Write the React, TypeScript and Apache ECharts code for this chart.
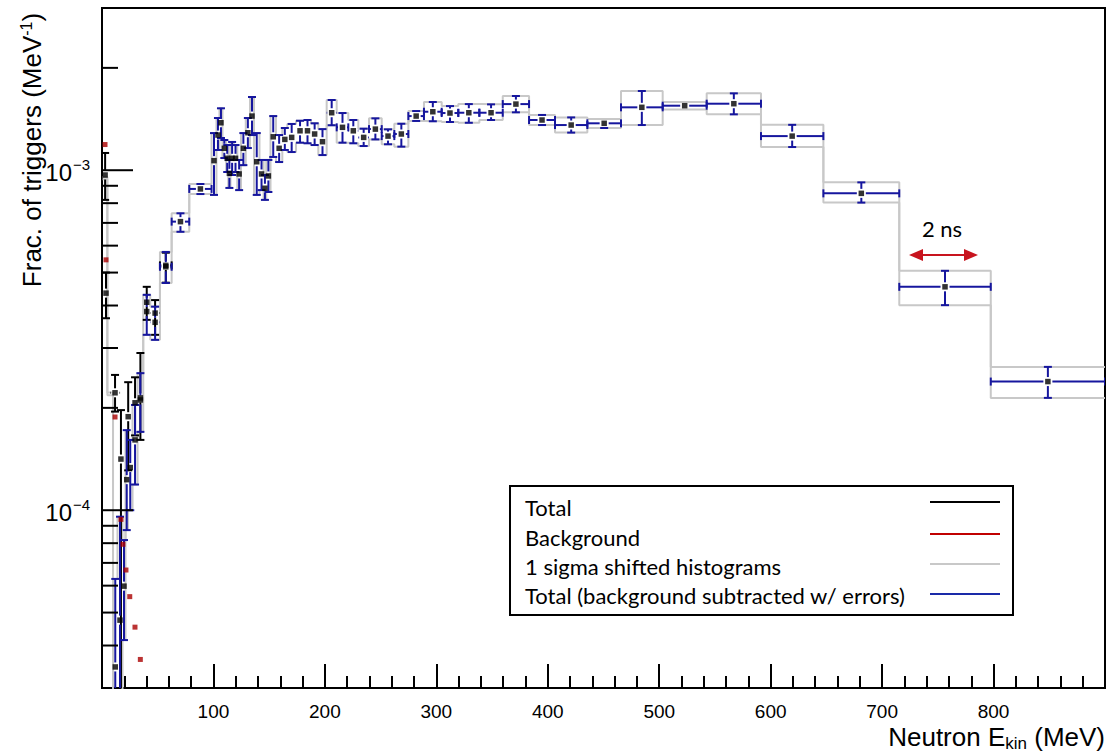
import React, { useEffect, useRef } from "react";
import * as echarts from "echarts";

// ---------- axis ticks ----------
const xTickLabels = [100, 200, 300, 400, 500, 600, 700, 800];
const yMajorTicks = [1e-4, 1e-3];
const yMinorTicks = [4e-5, 5e-5, 6e-5, 7e-5, 8e-5, 9e-5, 2e-4, 3e-4, 4e-4, 5e-4, 6e-4, 7e-4, 8e-4, 9e-4, 2e-3];
const yLabelExponents = [-4, -3];

// ---------- Total (background subtracted w/ errors) ----------
const binLo = [9.9, 13.9, 18.4, 21.1, 23.3, 27.4, 31.9, 37.0, 43.3, 52.0, 62.5, 78.3,
  98.3, 102.7, 105.4, 108.1, 111.4, 113.3, 115.3, 118.2, 121.4, 124.7, 129.0, 132.8, 136.4, 141.3, 145.0, 147.4,
  151.2, 156.1, 161.8, 166.3, 174.1, 181.3, 187.5, 194.1, 201.6, 210.6, 221.0, 230.0, 239.6, 251.0, 262.3, 274.9,
  288.9, 304.8, 319.7, 338.6, 359.6, 383.2, 406.5, 435.5, 465.7, 503.1, 542.6, 591.3, 647.3, 715.4, 797.5];
const binHi = [13.9, 18.4, 21.1, 23.3, 27.4, 31.9, 37.0, 43.3, 52.0, 62.5, 78.3, 98.3,
  102.7, 105.4, 108.1, 111.4, 113.3, 115.3, 118.2, 121.4, 124.7, 129.0, 132.8, 136.4, 141.3, 145.0, 147.4, 151.2,
  156.1, 161.8, 166.3, 174.1, 181.3, 187.5, 194.1, 201.6, 210.6, 221.0, 230.0, 239.6, 251.0, 262.3, 274.9, 288.9,
  304.8, 319.7, 338.6, 359.6, 383.2, 406.5, 435.5, 465.7, 503.1, 542.6, 591.3, 647.3, 715.4, 797.5, 900];
const binVal = [3.46e-5, 4.75e-5, 5.98e-5, 1.23e-4, 1.335e-4, 1.61e-4, 2.11e-4, 3.84e-4, 3.57e-4, 5.2e-4, 7.06e-4, 8.81e-4,
  1.067e-3, 1.269e-3, 1.379e-3, 1.16e-3, 1.084e-3, 9.79e-4, 1.084e-3, 1.084e-3, 9.75e-4, 1.16e-3, 1.289e-3, 1.443e-3, 1.059e-3, 9.75e-4, 8.85e-4, 9.62e-4,
  1.254e-3, 1.16e-3, 1.232e-3, 1.249e-3, 1.306e-3, 1.306e-3, 1.278e-3, 1.213e-3, 1.476e-3, 1.337e-3, 1.306e-3, 1.249e-3, 1.321e-3, 1.26e-3, 1.278e-3, 1.443e-3,
  1.486e-3, 1.473e-3, 1.476e-3, 1.476e-3, 1.565e-3, 1.405e-3, 1.358e-3, 1.374e-3, 1.531e-3, 1.548e-3, 1.569e-3, 1.26e-3, 8.55e-4, 4.54e-4, 2.39e-4];
const binUp = [6.28e-5, 9.57e-5, 8.17e-5, 1.72e-4, 1.61e-4, 2.04e-4, 2.53e-4, 4.3e-4, 3.97e-4, 5.75e-4, 7.47e-4, 9.11e-4,
  1.286e-3, 1.424e-3, 1.521e-3, 1.227e-3, 1.186e-3, 1.072e-3, 1.211e-3, 1.186e-3, 1.072e-3, 1.286e-3, 1.424e-3, 1.642e-3, 1.286e-3, 1.072e-3, 9.68e-4, 1.072e-3,
  1.443e-3, 1.269e-3, 1.331e-3, 1.368e-3, 1.398e-3, 1.405e-3, 1.374e-3, 1.321e-3, 1.609e-3, 1.473e-3, 1.405e-3, 1.325e-3, 1.421e-3, 1.319e-3, 1.37e-3, 1.493e-3,
  1.587e-3, 1.544e-3, 1.565e-3, 1.562e-3, 1.653e-3, 1.454e-3, 1.43e-3, 1.414e-3, 1.71e-3, 1.587e-3, 1.683e-3, 1.36e-3, 9.21e-4, 5.06e-4, 2.64e-4];
const binDn = [1e-5, 1e-5, 4.15e-5, 8.74e-5, 1.0e-4, 1.19e-4, 1.7e-4, 3.28e-4, 3.17e-4, 4.66e-4, 6.59e-4, 8.51e-4,
  8.46e-4, 1.147e-3, 1.244e-3, 1.086e-3, 9.88e-4, 8.87e-4, 9.68e-4, 9.88e-4, 8.74e-4, 1.035e-3, 1.162e-3, 1.269e-3, 8.46e-4, 8.74e-4, 8.18e-4, 8.63e-4,
  1.094e-3, 1.057e-3, 1.147e-3, 1.131e-3, 1.205e-3, 1.2e-3, 1.186e-3, 1.108e-3, 1.356e-3, 1.205e-3, 1.2e-3, 1.178e-3, 1.232e-3, 1.192e-3, 1.173e-3, 1.396e-3,
  1.393e-3, 1.386e-3, 1.379e-3, 1.405e-3, 1.48e-3, 1.358e-3, 1.29e-3, 1.331e-3, 1.358e-3, 1.508e-3, 1.46e-3, 1.17e-3, 8.03e-4, 4.01e-4, 2.14e-4];

// ---------- Total (before subtraction), low energies ----------
const totLo = [2.0, 2.8, 7.2, 14.5, 21.5, 27.4, 31.9, 37.0, 43.3, 52.0];
const totHi = [3.6, 4.4, 16.2, 19.5, 25.5, 31.9, 37.0, 43.3, 52.0, 62.5];
const totVal = [9.68e-4, 4.35e-4, 2.215e-4, 1.414e-4, 1.884e-4, 2.07e-4, 2.14e-4, 4.09e-4, 3.8e-4, 5.25e-4];
const totUp = [1.124e-3, 5.0e-4, 2.5e-4, 1.97e-4, 2.38e-4, 2.46e-4, 2.9e-4, 4.54e-4, 4.15e-4, 5.72e-4];
const totDn = [8.18e-4, 3.67e-4, 1.95e-4, 1e-5, 1.31e-4, 1.66e-4, 1.61e-4, 3.63e-4, 3.28e-4, 4.67e-4];

// ---------- Background ----------
const bkgE = [2.7, 3.6, 11.7, 17.0, 18.8, 21.5, 24.9, 29.6, 34.4];
const bkgVal = [1.19e-3, 5.45e-4, 1.88e-4, 9.4e-5, 7.94e-5, 6.67e-5, 5.57e-5, 4.53e-5, 3.64e-5];

// ---------- 1 sigma shifted histograms: leading low-energy bins ----------
const grayLeadLo = [0.5, 4.8];
const grayLeadHi = [4.8, 9.9];
const grayLeadUp = [9.55e-4, 2.22e-4];
const grayLeadDn = [9.4e-4, 2.18e-4];

const LEGEND_ITEMS = ["Total", "Background", "1 sigma shifted histograms", "Total (background subtracted w/ errors)"];

const BLUE = "#16169e";
const GRAY = "#c8c8c8";
const RED_MARK = "#aa0000";
const ROOT_FONT = '"Liberation Sans", Arial, sans-serif';
const LEG_FONT = 'Lato, "Open Sans", sans-serif';

function errorBars(color: string) {
  return (params: any, api: any) => {
    const lo = api.value(0), hi = api.value(1), v = api.value(2), up = api.value(3), dn = api.value(4);
    const cxv = (lo + hi) / 2;
    const c = api.coord([cxv, v]);
    const pl = api.coord([lo, v]);
    const ph = api.coord([hi, v]);
    const pu = api.coord([cxv, up]);
    const pd = api.coord([cxv, dn]);
    const g = 4.5, cap = 4;
    const st = { stroke: color, lineWidth: 2 };
    const kids: any[] = [];
    const seg = (x1: number, y1: number, x2: number, y2: number) =>
      kids.push({ type: "line", shape: { x1, y1, x2, y2 }, style: st });
    if (c[0] - g > pl[0]) seg(pl[0], c[1], c[0] - g, c[1]);
    if (ph[0] > c[0] + g) seg(c[0] + g, c[1], ph[0], c[1]);
    if (ph[0] - pl[0] > 2 * g + 2) {
      seg(pl[0], c[1] - cap, pl[0], c[1] + cap);
      seg(ph[0], c[1] - cap, ph[0], c[1] + cap);
    }
    if (pu[1] < c[1] - g) {
      seg(c[0], c[1] - g, c[0], pu[1]);
      seg(c[0] - cap, pu[1], c[0] + cap, pu[1]);
    }
    if (pd[1] > c[1] + g) {
      seg(c[0], c[1] + g, c[0], pd[1]);
      seg(c[0] - cap, pd[1], c[0] + cap, pd[1]);
    }
    return { type: "group", children: kids };
  };
}

export default function App() {
  const ref = useRef<HTMLDivElement>(null);
  useEffect(() => {
    if (!ref.current) return;
    const chart = echarts.init(ref.current, undefined, { renderer: "svg" });

    const blueData = binLo.map((lo, i) => [lo, binHi[i], binVal[i], binUp[i], binDn[i]]);
    const totData = totLo.map((lo, i) => [lo, totHi[i], totVal[i], totUp[i], totDn[i]]);

    const grayUpper: number[][] = [];
    const grayLower: number[][] = [];
    grayLeadLo.forEach((lo, i) => {
      grayUpper.push([lo, grayLeadUp[i]], [grayLeadHi[i], grayLeadUp[i]]);
      grayLower.push([lo, grayLeadDn[i]], [grayLeadHi[i], grayLeadDn[i]]);
    });
    binLo.forEach((lo, i) => {
      grayUpper.push([lo, binUp[i]], [binHi[i], binUp[i]]);
      grayLower.push([lo, binDn[i]], [binHi[i], binDn[i]]);
    });

    const markers = [
      ...binLo.map((lo, i) => [(lo + binHi[i]) / 2, binVal[i]]),
      ...totLo.map((lo, i) => [(lo + totHi[i]) / 2, totVal[i]]),
    ];

    const yTickData = [
      ...yMajorTicks.map((v) => [0, v, 1]),
      ...yMinorTicks.map((v) => [0, v, 0]),
    ];
    const yLabelData = yMajorTicks.map((v, i) => [0, v, yLabelExponents[i]]);

    const legendY = [507, 537, 566, 595];
    const legendLineY = [502, 534, 564, 594];
    const legendColors = ["#000000", "#c00000", GRAY, "#1a2aa8"];

    const option: any = {
      animation: false,
      backgroundColor: "#ffffff",
      grid: { left: 102, right: 10, top: 8, bottom: 64, show: true, borderColor: "#000", borderWidth: 2, backgroundColor: "transparent" },
      xAxis: {
        type: "value",
        min: 0,
        max: 900,
        interval: 100,
        axisLine: { show: true, lineStyle: { color: "#000", width: 2 } },
        axisTick: { show: true, inside: true, length: 24, lineStyle: { color: "#000", width: 2 } },
        minorTick: { show: true, splitNumber: 5, length: 12, lineStyle: { color: "#000", width: 2 } },
        splitLine: { show: false },
        axisLabel: {
          show: true,
          margin: 14,
          color: "#000",
          fontFamily: ROOT_FONT,
          fontSize: 19,
          lineHeight: 19,
          formatter: (v: number) => (xTickLabels.indexOf(v) >= 0 ? String(v) : ""),
        },
      },
      yAxis: {
        type: "log",
        logBase: 10,
        min: 3e-5,
        max: 3e-3,
        axisLine: { show: true, lineStyle: { color: "#000", width: 2 } },
        axisTick: { show: false },
        axisLabel: { show: false },
        splitLine: { show: false },
        minorTick: { show: false },
      },
      series: [
        {
          type: "line",
          name: "1 sigma up",
          data: grayUpper,
          showSymbol: false,
          symbol: "none",
          lineStyle: { color: GRAY, width: 2 },
          clip: true,
          z: 1,
        },
        {
          type: "line",
          name: "1 sigma down",
          data: grayLower,
          showSymbol: false,
          symbol: "none",
          lineStyle: { color: GRAY, width: 2 },
          clip: true,
          z: 1,
        },
        {
          type: "custom",
          name: "Total",
          data: totData,
          encode: { x: [0, 1], y: [2, 3, 4] },
          renderItem: errorBars("#000000"),
          clip: true,
          z: 2,
        },
        {
          type: "custom",
          name: "Total (background subtracted w/ errors)",
          data: blueData,
          encode: { x: [0, 1], y: [2, 3, 4] },
          renderItem: errorBars(BLUE),
          clip: true,
          z: 3,
        },
        {
          type: "scatter",
          name: "markers",
          data: markers,
          symbol: "rect",
          symbolSize: 5.5,
          itemStyle: { color: "#000" },
          clip: true,
          z: 4,
        },
        {
          type: "scatter",
          name: "Background",
          data: bkgE.map((e, i) => [e, bkgVal[i]]),
          symbol: "rect",
          symbolSize: 5,
          itemStyle: { color: RED_MARK },
          clip: true,
          z: 4,
        },
        {
          type: "custom",
          name: "yticks",
          data: yTickData,
          encode: { x: 0, y: 1 },
          renderItem: (params: any, api: any) => {
            const p = api.coord([api.value(0), api.value(1)]);
            const len = api.value(2) ? 31 : 16;
            return { type: "line", shape: { x1: p[0], y1: p[1], x2: p[0] + len, y2: p[1] }, style: { stroke: "#000", lineWidth: 2 } };
          },
          z: 5,
        },
        {
          type: "custom",
          name: "ylabels",
          data: yLabelData,
          encode: { x: 0, y: 1 },
          renderItem: (params: any, api: any) => {
            const p = api.coord([api.value(0), api.value(1)]);
            const e = api.value(2);
            return {
              type: "group",
              children: [
                { type: "text", x: p[0] - 30, y: p[1] + 2, style: { text: "10", font: `24px ${ROOT_FONT}`, fill: "#000", align: "right", verticalAlign: "middle" } },
                { type: "text", x: p[0] - 29, y: p[1] - 6, style: { text: "\u2212" + Math.abs(e), font: `15px ${ROOT_FONT}`, fill: "#000", align: "left", verticalAlign: "middle" } },
              ],
            };
          },
          z: 5,
        },
      ],
      graphic: [
        {
          type: "text",
          x: 32,
          y: 150,
          rotation: Math.PI / 2,
          style: {
            text: "{a|Frac. of triggers (MeV}{s|-1}{a|)}",
            align: "center",
            verticalAlign: "middle",
            fill: "#000",
            rich: {
              a: { fontFamily: ROOT_FONT, fontSize: 26, lineHeight: 28, fill: "#000" },
              s: { fontFamily: ROOT_FONT, fontSize: 16, lineHeight: 28, verticalAlign: "top", fill: "#000" },
            },
          },
        },
        {
          type: "text",
          x: 1105,
          y: 737,
          style: {
            text: "{a|Neutron E}{s|kin}{a| (MeV)}",
            align: "right",
            verticalAlign: "middle",
            fill: "#000",
            rich: {
              a: { fontFamily: ROOT_FONT, fontSize: 26, lineHeight: 26, fill: "#000" },
              s: { fontFamily: ROOT_FONT, fontSize: 17, lineHeight: 30, verticalAlign: "bottom", fill: "#000" },
            },
          },
        },
        {
          type: "rect",
          shape: { x: 510, y: 486, width: 503, height: 129 },
          style: { fill: "#fff", stroke: "#000", lineWidth: 2 },
          z: 10,
        },
        ...LEGEND_ITEMS.map((t, i) => ({
          type: "text",
          x: 525,
          y: legendY[i],
          style: { text: t, font: `22px ${LEG_FONT}`, fill: "#000", align: "left", verticalAlign: "middle" },
          z: 11,
        })),
        ...LEGEND_ITEMS.map((t, i) => ({
          type: "line",
          shape: { x1: 930, y1: legendLineY[i], x2: 1000, y2: legendLineY[i] },
          style: { stroke: legendColors[i], lineWidth: 2 },
          z: 11,
        })),
        {
          type: "line",
          shape: { x1: 918, y1: 255, x2: 969, y2: 255 },
          style: { stroke: "#c8141e", lineWidth: 2 },
          z: 11,
        },
        {
          type: "polygon",
          shape: { points: [[909, 255], [923, 249], [923, 261]] },
          style: { fill: "#c8141e" },
          z: 11,
        },
        {
          type: "polygon",
          shape: { points: [[978, 255], [964, 249], [964, 261]] },
          style: { fill: "#c8141e" },
          z: 11,
        },
        {
          type: "text",
          x: 942,
          y: 228,
          style: { text: "2 ns", font: `22px ${LEG_FONT}`, fill: "#000", align: "center", verticalAlign: "middle" },
          z: 11,
        },
      ],
    };
    chart.setOption(option);
    return () => chart.dispose();
  }, []);
  return <div ref={ref} style={{ position: "absolute", left: 0, top: 0, width: 1115, height: 752 }} />;
}
